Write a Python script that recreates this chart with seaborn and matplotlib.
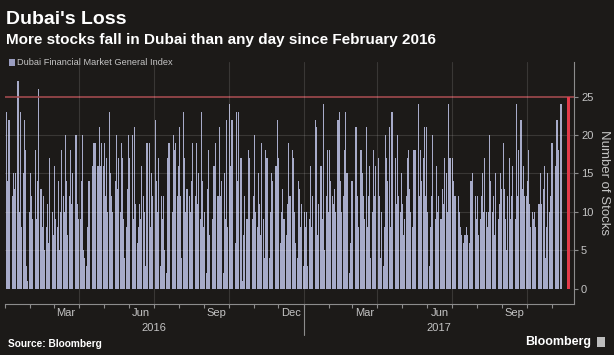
import matplotlib
matplotlib.use('Agg')
import matplotlib.pyplot as plt
import matplotlib.dates as mdates
import matplotlib.transforms as mtransforms
from matplotlib.patches import Rectangle
import pandas as pd
import seaborn as sns

# daily count of falling stocks, one list per month (Sun-Thu trading days)
jan16 = [23, 14, 12, 22, 13, 12, 12, 15, 13, 15, 27, 17, 10, 23, 8, 15, 22, 18, 3, 1, 10]
feb16 = [15, 12, 1, 9, 18, 6, 9, 14, 26, 13, 13, 8, 12, 5, 8, 11, 4, 6, 17, 10, 2]
mar16 = [7, 16, 9, 8, 14, 5, 10, 18, 12, 10, 20, 14, 7, 12, 18, 8, 11, 15, 6, 20, 13, 11, 9]
apr16 = [9, 14, 20, 5, 4, 3, 8, 10, 14, 12, 16, 13, 19, 11, 19, 16, 12, 21, 16, 19]
may16 = [16, 19, 12, 17, 10, 23, 15, 12, 11, 10, 8, 14, 20, 13, 17, 10, 19, 17, 9, 4, 8, 13, 20]
jun16 = [17, 12, 20, 3, 9, 21, 11, 6, 8, 11, 9, 16, 12, 10, 3, 7, 19, 19, 1, 8, 15, 12]
jul16 = [22, 14, 7, 10, 17, 3, 12, 9, 12, 5, 2, 17, 7, 19, 13, 10, 20, 14, 18, 19, 12]
aug16 = [16, 21, 12, 4, 23, 17, 10, 3, 13, 12, 10, 10, 14, 19, 8, 12, 19, 11, 15, 9, 23, 14, 8]
sep16 = [10, 2, 13, 18, 7, 6, 9, 11, 16, 3, 19, 12, 10, 21, 12, 14, 2, 15, 9, 22, 8]
oct16 = [24, 16, 10, 22, 12, 6, 1, 23, 14, 23, 17, 9, 1, 7, 12, 9, 9, 18, 12, 17, 9, 12]
nov16 = [12, 20, 10, 8, 15, 11, 7, 19, 9, 4, 18, 12, 17, 4, 10, 15, 14, 9, 5, 16, 11, 22]
dec16 = [17, 6, 10, 13, 9, 9, 7, 11, 19, 8, 12, 18, 17, 10, 8, 6, 4, 14, 13, 8, 11]
jan17 = [3, 10, 8, 10, 3, 9, 16, 5, 8, 12, 22, 14, 21, 7, 11, 16, 7, 9, 24, 5, 12, 18, 10]
feb17 = [18, 14, 12, 7, 11, 13, 10, 22, 15, 23, 14, 10, 12, 18, 23, 9, 15, 2, 6, 11]
mar17 = [14, 9, 10, 21, 17, 12, 8, 18, 13, 15, 12, 9, 21, 8, 12, 16, 4, 10, 18, 12, 9, 16]
apr17 = [17, 12, 8, 4, 10, 3, 8, 20, 17, 14, 21, 8, 12, 23, 9, 17, 11, 5, 20, 12, 10]
may17 = [15, 11, 7, 9, 12, 17, 18, 13, 10, 8, 12, 18, 13, 18, 24, 12, 10, 18, 14, 17, 21, 12, 21]
jun17 = [10, 3, 8, 12, 12, 20, 9, 7, 16, 10, 12, 9, 7, 13, 11, 17, 15, 10, 24, 14, 17]
jul17 = [17, 14, 12, 10, 12, 12, 9, 10, 8, 7, 6, 7, 7, 8, 7, 6, 14, 14, 7, 15, 12, 9]
aug17 = [8, 12, 7, 9, 12, 15, 10, 17, 10, 8, 10, 20, 14, 10, 12, 4, 7, 15, 6, 9, 11, 15, 13]
sep17 = [19, 13, 9, 5, 12, 17, 9, 8, 12, 16, 9, 24, 12, 8, 18, 22, 10, 13, 16, 12]
oct17 = [12, 14, 18, 11, 8, 10, 9, 7, 10, 8, 7, 11, 9, 15, 11, 13, 16, 4, 8, 15, 10, 12, 16]
nov17 = [19, 12, 16, 12, 22, 9, 18, 24]

monthly = [jan16, feb16, mar16, apr16, may16, jun16, jul16, aug16, sep16, oct16, nov16, dec16,
           jan17, feb17, mar17, apr17, may17, jun17, jul17, aug17, sep17, oct17, nov17]
month_starts = pd.date_range('2016-01-01', periods=len(monthly), freq='MS')

latest_date = pd.Timestamp('2017-11-21')
latest_value = 25

month_labels = ['Mar', 'Jun', 'Sep', 'Dec', 'Mar', 'Jun', 'Sep']
month_label_dates = ['2016-03-16', '2016-06-16', '2016-09-16', '2016-12-16',
                     '2017-03-16', '2017-06-16', '2017-09-16']
year_labels = ['2016', '2017']
year_label_dates = ['2016-07-01', '2017-06-15']
y_ticks = [0, 5, 10, 15, 20, 25]

rows = []
for start, vals in zip(month_starts, monthly):
    days = pd.bdate_range(start, start + pd.offsets.MonthEnd(0), freq='C',
                          weekmask='Sun Mon Tue Wed Thu')
    for d, v in zip(days, vals):
        rows.append((d, v))
df = pd.DataFrame(rows, columns=['date', 'stocks'])

BG = '#1c1a18'
BAR = '#a7abc9'
RED = '#e23a4a'
TXT = '#c4c4c4'

sns.set_theme(style='dark')
plt.rcParams['font.family'] = ['Liberation Sans Narrow', 'Liberation Sans', 'DejaVu Sans']

fig = plt.figure(figsize=(6.14, 3.55), dpi=100, facecolor=BG)
ax = fig.add_axes([0.008, 0.1437, 0.927, 0.6817], facecolor=BG)

ax.bar(df['date'], df['stocks'], width=1.45, color=BAR, linewidth=0, zorder=2)
ax.bar([latest_date], [latest_value], width=3, color=RED, linewidth=0, zorder=4)
ax.axhline(25, color='#a04a4e', lw=1.2, zorder=3)

for y in [5, 10, 15, 20]:
    ax.axhline(y, color='#ffffff', alpha=0.13, lw=0.8, zorder=3)
for q in pd.date_range('2016-04-01', '2017-10-01', freq='QS'):
    ax.axvline(q, color='#ffffff', alpha=0.13, lw=0.8, zorder=3)

ax.set_xlim(pd.Timestamp('2016-01-01'), pd.Timestamp('2017-11-28'))
ax.set_ylim(-2, 29.5)

for s in ['left', 'top']:
    ax.spines[s].set_visible(False)
for s in ['right', 'bottom']:
    ax.spines[s].set_visible(True)
    ax.spines[s].set_color('#8c8c8c')
    ax.spines[s].set_linewidth(0.8)

ax.yaxis.tick_right()
ax.set_yticks(y_ticks)
ax.tick_params(axis='y', colors='#8c8c8c', labelcolor=TXT, labelsize=8, length=3,
               width=0.8, pad=2, right=True, left=False)
ax.yaxis.set_label_position('right')
ax.set_ylabel('Number of Stocks', color=TXT, fontsize=9.5, rotation=-90, labelpad=12)

ax.xaxis.set_major_locator(mdates.MonthLocator())
ax.tick_params(axis='x', colors='#8c8c8c', labelbottom=False, length=3, width=0.8,
               bottom=True)
ax.grid(False)

trans = mtransforms.blended_transform_factory(ax.transData, ax.transAxes)
for lab, d in zip(month_labels, month_label_dates):
    ax.text(pd.Timestamp(d), -0.037, lab, transform=trans, ha='center', va='center',
            color=TXT, fontsize=8)
for lab, d in zip(year_labels, year_label_dates):
    ax.text(pd.Timestamp(d), -0.099, lab, transform=trans, ha='center', va='center',
            color=TXT, fontsize=8)
jan17_x = pd.Timestamp('2017-01-01')
ax.plot([jan17_x, jan17_x], [0, -0.128], transform=trans, color='#8c8c8c', lw=0.8,
        clip_on=False)

fig.text(0.0098, 0.932, "Dubai's Loss", color='white', fontsize=14, fontweight='bold',
         va='baseline', ha='left')
fig.text(0.0098, 0.876, 'More stocks fall in Dubai than any day since February 2016',
         color='white', fontsize=11, fontweight='bold', va='baseline', ha='left')

fig.patches.append(Rectangle((0.014, 0.815), 0.0105, 0.018, transform=fig.transFigure,
                             facecolor='#9a9dc0', edgecolor='none'))
fig.text(0.027, 0.824, 'Dubai Financial Market General Index', color=TXT, fontsize=6.7,
         va='center', ha='left')

fig.text(0.013, 0.0315, 'Source: Bloomberg', color='white', fontsize=7.3, fontweight='bold',
         va='center', ha='left')
fig.text(0.9625, 0.0366, 'Bloomberg', color='white', fontsize=9, fontweight='bold',
         va='center', ha='right')
fig.patches.append(Rectangle((0.972, 0.022), 0.013, 0.03, transform=fig.transFigure,
                             facecolor='#bdbdbd', edgecolor='none'))

fig.savefig('out.png', dpi=100, facecolor=BG)
